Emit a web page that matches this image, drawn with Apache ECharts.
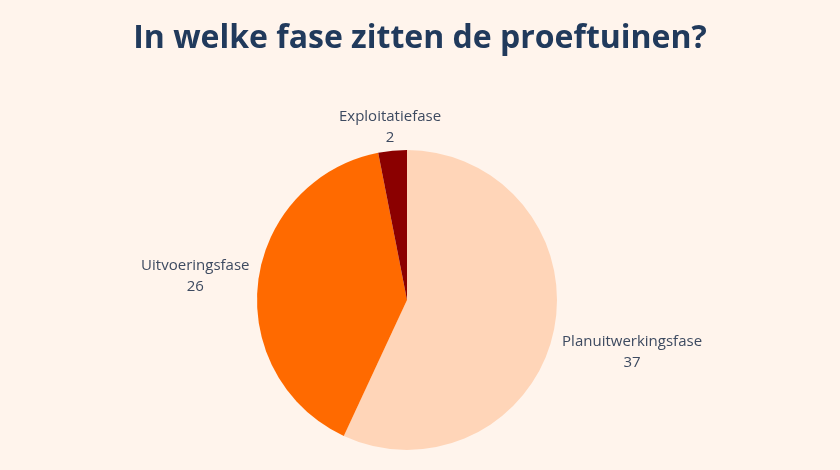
<!DOCTYPE html>
<html>
<head>
<meta charset="utf-8">
<script src="https://cdn.jsdelivr.net/npm/echarts@6/dist/echarts.min.js"></script>
<style>
html,body{margin:0;padding:0;background:#fff4ec;}
#chart{width:840px;height:470px;}
</style>
</head>
<body>
<div id="chart"></div>
<script>
const titleText = 'In welke fase zitten de proeftuinen?';
const categories = ['Planuitwerkingsfase', 'Uitvoeringsfase', 'Exploitatiefase'];
const values = [37, 26, 2];
const colors = ['#ffd5b8', '#ff6a00', '#8b0000'];

const CX = 407, CY = 300, R = 150, CLEAR = 157.5, TEXT_SHIFT = 2;
const total = values.reduce((a, b) => a + b, 0);

function midDir(i) {
  let cum = 0;
  for (let k = 0; k < i; k++) cum += values[k];
  const frac = (cum + values[i] / 2) / total;
  const theta = frac * 2 * Math.PI; // clockwise from top
  return [Math.sin(theta), -Math.cos(theta)];
}

function nearestCorner(cx, cy, w, h) {
  let m = Infinity;
  [-1, 1].forEach(sx => [-1, 1].forEach(sy => {
    m = Math.min(m, Math.hypot(cx + sx * w / 2, cy + sy * h / 2));
  }));
  return m;
}

const chart = echarts.init(document.getElementById('chart'), null, {renderer: 'canvas'});
chart.setOption({
  backgroundColor: '#fff4ec',
  animation: false,
  title: {
    text: titleText,
    left: 'center',
    top: 14,
    textStyle: {
      fontFamily: 'Open Sans',
      fontWeight: 'bold',
      fontSize: 32,
      lineHeight: 40,
      color: '#213a5c'
    }
  },
  series: [{
    type: 'pie',
    center: [CX, CY],
    radius: R,
    startAngle: 90,
    clockwise: true,
    avoidLabelOverlap: false,
    data: categories.map((c, i) => ({name: c, value: values[i], itemStyle: {color: colors[i]}})),
    label: {
      show: true,
      position: 'outside',
      formatter: '{b}\n{c}',
      fontFamily: 'Open Sans',
      fontSize: 15,
      lineHeight: 21,
      color: '#3d4a60',
      align: 'center'
    },
    labelLine: {show: false},
    emphasis: {disabled: true},
    labelLayout: function (params) {
      const i = params.dataIndex;
      const d = midDir(i);
      const w = params.labelRect.width, h = params.labelRect.height;
      let dist = 0;
      for (let t = 0; t < 400; t += 0.25) {
        if (nearestCorner(d[0] * t, d[1] * t, w, h) >= CLEAR) { dist = t; break; }
      }
      return {
        x: CX + d[0] * dist,
        y: CY + d[1] * dist + TEXT_SHIFT,
        align: 'center',
        verticalAlign: 'middle'
      };
    }
  }]
});
</script>
</body>
</html>
